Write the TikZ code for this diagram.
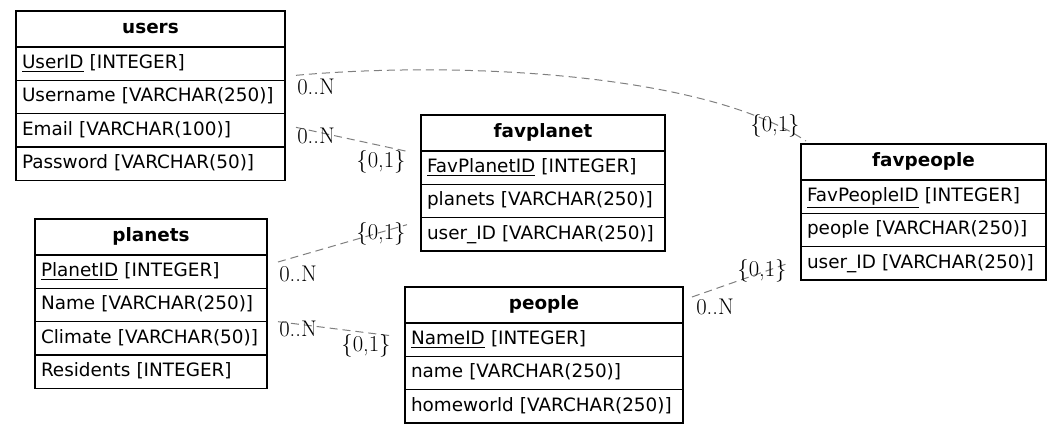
\documentclass[tikz,border=0pt]{standalone}
\usepackage{fontspec}
\usepackage{xcolor}
\usepackage{tikz}
\usetikzlibrary{positioning}
\newfontfamily\tabfont{DejaVu Sans}
\definecolor{edgegray}{HTML}{7F7F7F}

\begin{document}
\begin{tikzpicture}[x=0.75pt, y=-0.75pt,
    hdr/.style={draw, line width=1pt, outer sep=0pt, minimum width=#1, minimum height=27pt, inner sep=0pt, text height=10.5pt, text depth=3pt, font=\tabfont\fontsize{13.8}{16}\selectfont\bfseries},
    fld/.style={draw, line width=1pt, outer sep=0pt, text width=#1, minimum height=25pt, inner xsep=4.5pt, inner ysep=0pt, align=left, text height=10.5pt, text depth=3pt, font=\tabfont\fontsize{13.8}{16}\selectfont},
    rel/.style={draw=edgegray, line width=0.75pt, dash pattern=on 6pt off 3.75pt},
    card/.style={font=\fontsize{17}{19}\selectfont, inner sep=0pt}]
        \useasboundingbox (0,0) rectangle (1063,434);
        % users
        \node[hdr=201.75pt, anchor=north west] (users) at (16,11) {users};
        \node[fld=192.75pt, below=0pt of users] (uid) {\underline{UserID} [INTEGER]};
        \node[fld=192.75pt, below=0pt of uid] (uname) {Username [VARCHAR(250)]};
        \node[fld=192.75pt, below=0pt of uname] (email) {Email [VARCHAR(100)]};
        \node[fld=192.75pt, below=0pt of email] (pwd) {Password [VARCHAR(50)]};
        % favplanet
        \node[hdr=183pt, anchor=north west] (fplanet) at (421,115) {favplanet};
        \node[fld=174pt, below=0pt of fplanet] (fpid) {\underline{FavPlanetID} [INTEGER]};
        \node[fld=174pt, below=0pt of fpid] (fpname) {planets [VARCHAR(250)]};
        \node[fld=174pt, below=0pt of fpname] (fpuser) {user\_ID [VARCHAR(250)]};
        % favpeople
        \node[hdr=183.75pt, anchor=north west] (fpeople) at (801,144) {favpeople};
        \node[fld=174.75pt, below=0pt of fpeople] (fppid) {\underline{FavPeopleID} [INTEGER]};
        \node[fld=174.75pt, below=0pt of fppid] (fppname) {people [VARCHAR(250)]};
        \node[fld=174.75pt, below=0pt of fppname] (fppuser) {user\_ID [VARCHAR(250)]};
        % planets
        \node[hdr=174pt, anchor=north west] (planets) at (35,219) {planets};
        \node[fld=165pt, below=0pt of planets] (pid) {\underline{PlanetID} [INTEGER]};
        \node[fld=165pt, below=0pt of pid] (pname) {Name [VARCHAR(250)]};
        \node[fld=165pt, below=0pt of pname] (climate) {Climate [VARCHAR(50)]};
        \node[fld=165pt, below=0pt of climate] (residents) {Residents [INTEGER]};
        % people
        \node[hdr=208.5pt, anchor=north west] (people) at (405,287) {people};
        \node[fld=199.5pt, below=0pt of people] (nameid) {\underline{NameID} [INTEGER]};
        \node[fld=199.5pt, below=0pt of nameid] (name) {name [VARCHAR(250)]};
        \node[fld=199.5pt, below=0pt of name] (homeworld) {homeworld [VARCHAR(250)]};
        % relations
        \draw[rel] ([shift={(11,-5)}]uid.south east) .. controls +(154,-14) and +(-106,-70) .. ([shift={(5,-3)}]fpeople.north west);
        \draw[rel] ([shift={(11,-3)}]email.east) -- ([shift={(-11,1)}]fpid.north west);
        \draw[rel] ([shift={(11,7)}]pid.north east) -- ([shift={(-14,7)}]fpuser.north west);
        \draw[rel] ([shift={(11,0)}]climate.north east) -- ([shift={(-12,13)}]nameid.north west);
        \draw[rel] ([shift={(9,-8)}]people.east) -- ([shift={(-11,16)}]fppuser.north west);
        % cardinalities
        \node[card] (c1a) at (316,87) {0..N};
        \node[card] (c1b) at (775,126) {\{0,1\}};
        \node[card] (c2a) at (316,136) {0..N};
        \node[card] (c2b) at (381,162) {\{0,1\}};
        \node[card] (c3a) at (381,234) {\{0,1\}};
        \node[card] (c3b) at (298,274) {0..N};
        \node[card] (c4a) at (298,329) {0..N};
        \node[card] (c4b) at (366,346) {\{0,1\}};
        \node[card] (c5a) at (762,271) {\{0,1\}};
        \node[card] (c5b) at (715,307) {0..N};
\end{tikzpicture}
\end{document}
